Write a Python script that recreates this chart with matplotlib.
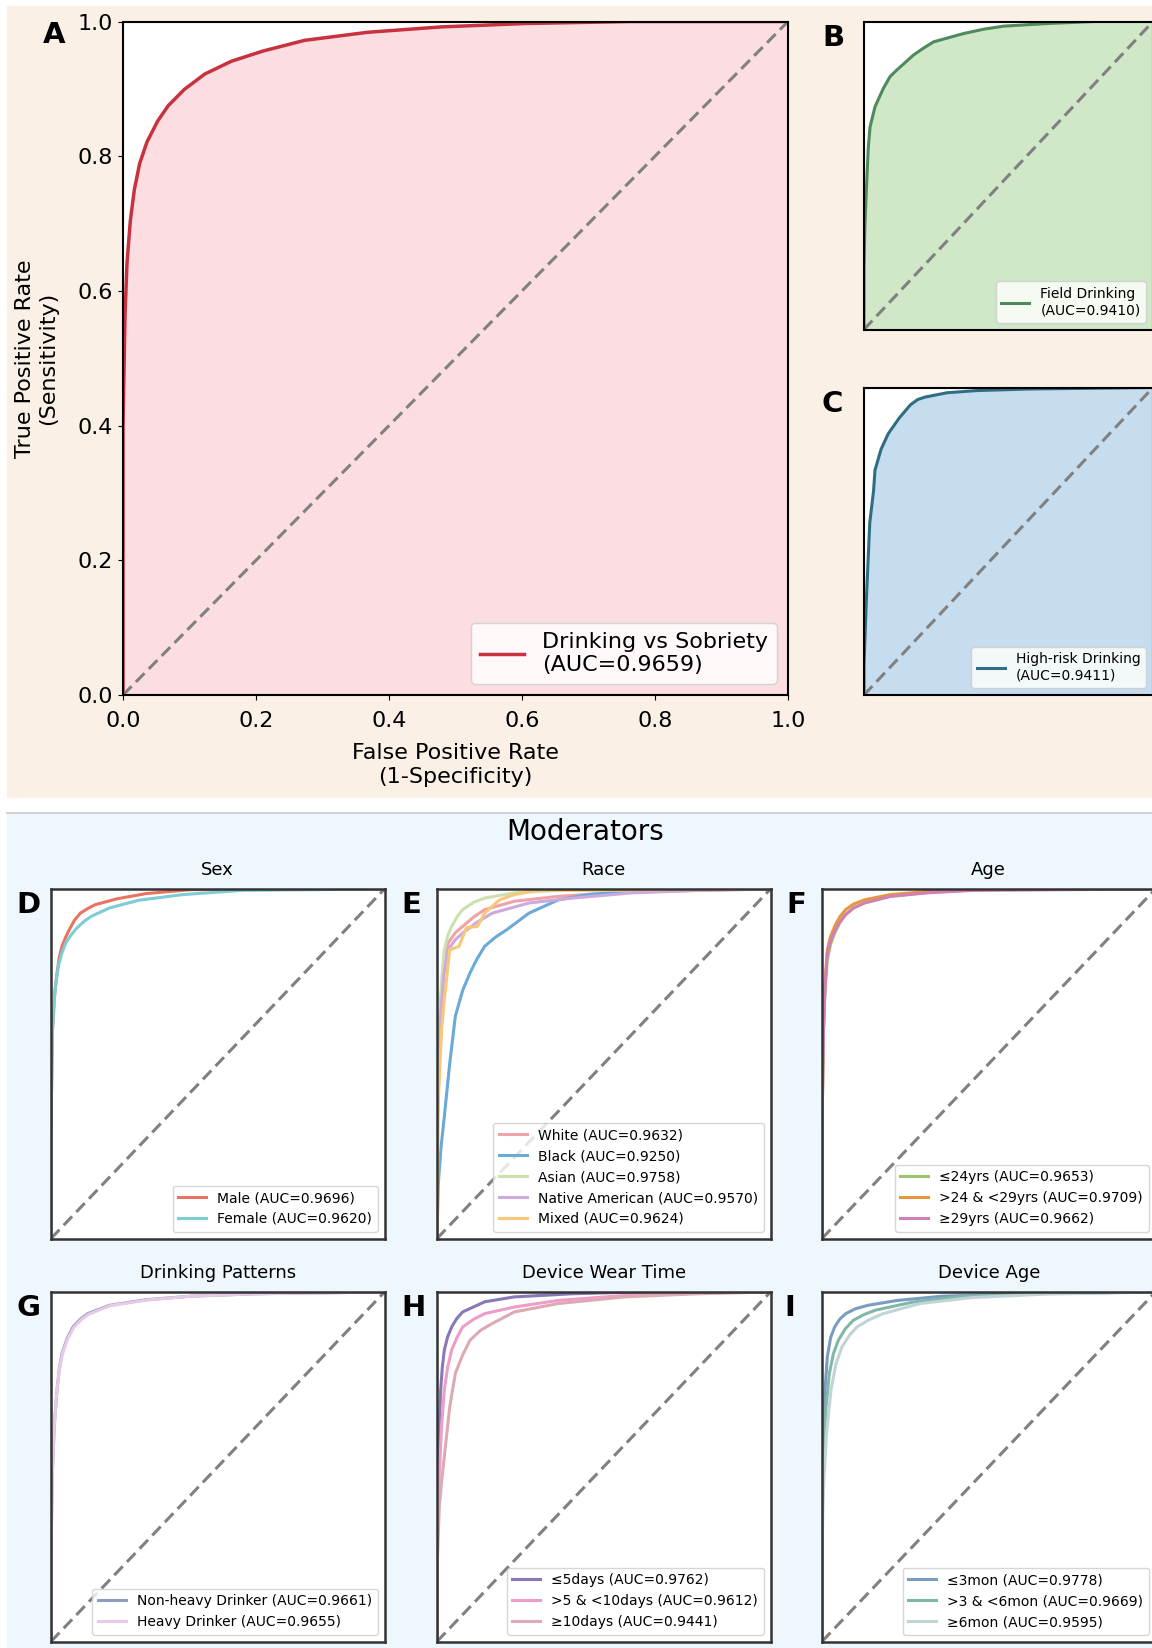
import matplotlib.pyplot as plt
from matplotlib.patches import Rectangle
from matplotlib.lines import Line2D

# ---- main ROC curves ----
fpr_all = [0, 0, 0.003, 0.006, 0.011, 0.017, 0.025, 0.036, 0.052, 0.068, 0.092, 0.123, 0.163, 0.21, 0.273, 0.368, 0.479, 0.605, 0.763, 1.0]
tpr_all = [0, 0.40, 0.563, 0.641, 0.704, 0.75, 0.789, 0.821, 0.852, 0.875, 0.899, 0.922, 0.941, 0.956, 0.972, 0.984, 0.992, 0.997, 1.0, 1.0]
auc_all = 0.9659

fpr_field = [0, 0, 0.003, 0.007, 0.015, 0.021, 0.038, 0.067, 0.09, 0.113, 0.171, 0.205, 0.241, 0.345, 0.414, 0.484, 0.646, 0.8, 1.0]
tpr_field = [0, 0.2, 0.33, 0.43, 0.593, 0.658, 0.723, 0.783, 0.821, 0.842, 0.891, 0.913, 0.934, 0.961, 0.975, 0.985, 0.994, 1.0, 1.0]
auc_field = 0.9410

fpr_risk = [0, 0, 0.008, 0.02, 0.033, 0.038, 0.059, 0.084, 0.122, 0.161, 0.186, 0.212, 0.288, 0.39, 0.569, 1.0]
tpr_risk = [0, 0.1, 0.306, 0.561, 0.663, 0.731, 0.799, 0.850, 0.901, 0.944, 0.961, 0.969, 0.983, 0.99, 0.995, 1.0]
auc_risk = 0.9411

# ---- moderators ----
sex_names = ['Male', 'Female']
sex_auc = [0.9696, 0.9620]
sex_fpr = [[0, 0, 0.004, 0.01, 0.018, 0.025, 0.033, 0.044, 0.055, 0.07, 0.088, 0.11, 0.132, 0.198, 0.286, 0.419, 1.0],
           [0, 0, 0.004, 0.012, 0.022, 0.032, 0.044, 0.06, 0.077, 0.1, 0.121, 0.176, 0.264, 0.396, 0.573, 1.0]]
sex_tpr = [[0, 0.3, 0.588, 0.69, 0.76, 0.805, 0.836, 0.862, 0.884, 0.91, 0.931, 0.944, 0.955, 0.972, 0.987, 0.998, 1.0],
           [0, 0.3, 0.588, 0.71, 0.779, 0.815, 0.845, 0.868, 0.888, 0.908, 0.922, 0.946, 0.968, 0.984, 0.996, 1.0]]

race_names = ['White', 'Black', 'Asian', 'Native American', 'Mixed']
race_auc = [0.9632, 0.9250, 0.9758, 0.9570, 0.9624]
race_fpr = [[0, 0, 0.011, 0.02, 0.033, 0.055, 0.077, 0.11, 0.143, 0.232, 0.364, 0.519, 0.784, 1.0],
            [0, 0.004, 0.012, 0.022, 0.038, 0.055, 0.077, 0.099, 0.12, 0.143, 0.175, 0.21, 0.276, 0.364, 0.453, 0.607, 1.0],
            [0, 0, 0.007, 0.014, 0.022, 0.032, 0.044, 0.06, 0.077, 0.11, 0.143, 0.232, 0.364, 1.0],
            [0, 0, 0.011, 0.02, 0.033, 0.055, 0.077, 0.12, 0.166, 0.276, 0.408, 0.585, 0.784, 1.0],
            [0, 0.004, 0.014, 0.022, 0.038, 0.066, 0.088, 0.121, 0.143, 0.165, 0.188, 0.232, 0.298, 1.0]]
race_tpr = [[0, 0.3, 0.683, 0.78, 0.845, 0.875, 0.893, 0.92, 0.941, 0.965, 0.979, 0.989, 0.996, 1.0],
            [0, 0.158, 0.26, 0.349, 0.5, 0.636, 0.71, 0.76, 0.8, 0.836, 0.862, 0.884, 0.931, 0.969, 0.984, 0.996, 1.0],
            [0, 0.3, 0.588, 0.74, 0.826, 0.865, 0.893, 0.92, 0.941, 0.962, 0.974, 0.989, 0.996, 1.0],
            [0, 0.3, 0.636, 0.75, 0.826, 0.855, 0.874, 0.905, 0.931, 0.96, 0.974, 0.989, 0.996, 1.0],
            [0, 0.397, 0.6, 0.683, 0.826, 0.836, 0.889, 0.893, 0.931, 0.95, 0.969, 0.984, 0.996, 1.0]]

age_names = ['≤24yrs', '>24 & <29yrs', '≥29yrs']
age_auc = [0.9653, 0.9709, 0.9662]
age_fpr = [[0, 0, 0.004, 0.009, 0.016, 0.026, 0.038, 0.053, 0.071, 0.095, 0.127, 0.205, 0.316, 0.472, 1.0],
           [0, 0, 0.004, 0.009, 0.016, 0.026, 0.038, 0.053, 0.071, 0.095, 0.127, 0.205, 0.316, 0.405, 1.0],
           [0, 0, 0.004, 0.009, 0.016, 0.026, 0.038, 0.053, 0.071, 0.095, 0.127, 0.205, 0.316, 0.45, 1.0]]
age_tpr = [[0, 0.3, 0.588, 0.71, 0.798, 0.843, 0.874, 0.903, 0.927, 0.946, 0.96, 0.979, 0.99, 0.998, 1.0],
           [0, 0.3, 0.588, 0.73, 0.826, 0.865, 0.893, 0.92, 0.941, 0.957, 0.969, 0.984, 0.993, 0.998, 1.0],
           [0, 0.3, 0.588, 0.72, 0.817, 0.853, 0.879, 0.905, 0.927, 0.946, 0.96, 0.979, 0.989, 0.996, 1.0]]

drink_names = ['Non-heavy Drinker', 'Heavy Drinker']
drink_auc = [0.9661, 0.9655]
drink_fpr = [[0, 0, 0.004, 0.01, 0.018, 0.025, 0.033, 0.048, 0.066, 0.088, 0.11, 0.176, 0.286, 0.419, 0.617, 1.0],
             [0, 0, 0.004, 0.01, 0.018, 0.025, 0.034, 0.049, 0.068, 0.09, 0.112, 0.178, 0.288, 0.42, 0.62, 1.0]]
drink_tpr = [[0, 0.25, 0.482, 0.62, 0.72, 0.78, 0.824, 0.866, 0.9, 0.922, 0.938, 0.962, 0.978, 0.988, 0.995, 1.0],
             [0, 0.25, 0.482, 0.62, 0.72, 0.778, 0.822, 0.864, 0.898, 0.92, 0.936, 0.961, 0.977, 0.988, 0.995, 1.0]]

wear_names = ['≤5days', '>5 & <10days', '≥10days']
wear_auc = [0.9762, 0.9612, 0.9441]
wear_fpr = [[0, 0, 0.004, 0.007, 0.011, 0.016, 0.022, 0.032, 0.044, 0.06, 0.077, 0.143, 0.232, 0.408, 0.563, 1.0],
            [0, 0, 0.007, 0.014, 0.022, 0.032, 0.044, 0.06, 0.077, 0.11, 0.143, 0.232, 0.364, 0.563, 0.784, 1.0],
            [0, 0, 0.007, 0.014, 0.022, 0.038, 0.055, 0.077, 0.099, 0.13, 0.166, 0.232, 0.364, 0.563, 0.784, 1.0]]
wear_tpr = [[0, 0.25, 0.482, 0.62, 0.72, 0.785, 0.834, 0.872, 0.9, 0.925, 0.943, 0.972, 0.986, 0.995, 0.999, 1.0],
            [0, 0.25, 0.482, 0.62, 0.72, 0.785, 0.834, 0.87, 0.9, 0.922, 0.938, 0.957, 0.976, 0.99, 0.997, 1.0],
            [0, 0.2, 0.387, 0.46, 0.53, 0.67, 0.767, 0.82, 0.862, 0.89, 0.91, 0.943, 0.967, 0.986, 0.995, 1.0]]

devage_names = ['≤3mon', '>3 & <6mon', '≥6mon']
devage_auc = [0.9778, 0.9669, 0.9595]
devage_fpr = [[0, 0, 0.004, 0.009, 0.016, 0.026, 0.038, 0.053, 0.071, 0.1, 0.138, 0.227, 0.361, 0.583, 1.0],
              [0, 0, 0.004, 0.012, 0.022, 0.034, 0.049, 0.07, 0.094, 0.125, 0.16, 0.272, 0.405, 0.628, 1.0],
              [0, 0, 0.004, 0.014, 0.027, 0.042, 0.06, 0.082, 0.105, 0.14, 0.183, 0.294, 0.45, 0.672, 1.0]]
devage_tpr = [[0, 0.3, 0.577, 0.72, 0.815, 0.87, 0.9, 0.922, 0.938, 0.952, 0.962, 0.976, 0.988, 0.995, 1.0],
              [0, 0.3, 0.53, 0.67, 0.767, 0.823, 0.862, 0.895, 0.919, 0.935, 0.948, 0.971, 0.986, 0.995, 1.0],
              [0, 0.25, 0.435, 0.6, 0.72, 0.795, 0.843, 0.876, 0.9, 0.92, 0.938, 0.967, 0.984, 0.994, 1.0]]

W, H = 1152, 1648
fig = plt.figure(figsize=(W / 100, H / 100), dpi=100)


def rect(left, top, right, bottom):
    # pixel box -> figure fraction
    return [left / W, 1 - bottom / H, (right - left) / W, (bottom - top) / H]


# section backgrounds
fig.patches.append(Rectangle((7 / W, 1 - 797 / H), 1, 791 / H, transform=fig.transFigure,
                             color='#FAF0E6', zorder=-10))
fig.patches.append(Rectangle((7 / W, 0), 1, (H - 814) / H, transform=fig.transFigure,
                             color='#EEF6FE', zorder=-10))
fig.add_artist(Line2D([7 / W, 1], [1 - 813 / H] * 2, transform=fig.transFigure, color='#c9c9c9', lw=1.2))

diag = dict(ls=(0, (4, 2)), color='gray', lw=2.2)


def big_panel(box, fpr, tpr, col, fillcol, label, fs, lw):
    ax = fig.add_axes(box)
    ax.fill_between(fpr, tpr, color=fillcol, lw=0)
    ax.plot(fpr, tpr, color=col, lw=lw, label=label)
    ax.plot([0, 1], [0, 1], **diag)
    ax.set_xlim(0, 1)
    ax.set_ylim(0, 1)
    for s in ax.spines.values():
        s.set_linewidth(1.5)
    ax.legend(loc='lower right', fontsize=fs)
    return ax


axA = big_panel(rect(123, 21.5, 788, 695), fpr_all, tpr_all, '#C8323F', '#FBDDE2',
                'Drinking vs Sobriety\n(AUC=%.4f)' % auc_all, 16, 2.5)
axA.set_xticks([0, 0.2, 0.4, 0.6, 0.8, 1.0])
axA.set_yticks([0, 0.2, 0.4, 0.6, 0.8, 1.0])
axA.tick_params(labelsize=16)
axA.tick_params(axis='x', pad=8)
axA.set_xlabel('False Positive Rate\n(1-Specificity)', fontsize=16, labelpad=9)
axA.set_ylabel('True Positive Rate\n(Sensitivity)', fontsize=16, labelpad=14)

axB = big_panel(rect(864, 21.5, 1153, 329.5), fpr_field, tpr_field, '#4E8A5C', '#D0E7C8',
                'Field Drinking\n(AUC=%.4f)' % auc_field, 10, 2.2)
axC = big_panel(rect(864, 387.5, 1153, 695), fpr_risk, tpr_risk, '#2F6E82', '#C6DDF0',
                'High-risk Drinking\n(AUC=%.4f)' % auc_risk, 10, 2.2)
for ax in [axB, axC]:
    ax.set_xticks([])
    ax.set_yticks([])

# moderator panels
groups = [
    ('Sex', sex_names, sex_auc, sex_fpr, sex_tpr, ['#E8735E', '#7FCCD4']),
    ('Race', race_names, race_auc, race_fpr, race_tpr, ['#EFA3A8', '#6AAAD8', '#CCE0B0', '#CDA9DE', '#F8C878']),
    ('Age', age_names, age_auc, age_fpr, age_tpr, ['#9CC46C', '#E8963C', '#D180B6']),
    ('Drinking Patterns', drink_names, drink_auc, drink_fpr, drink_tpr, ['#8C9CC2', '#E9C9E8']),
    ('Device Wear Time', wear_names, wear_auc, wear_fpr, wear_tpr, ['#8878B8', '#EE9CC8', '#DDAAB4']),
    ('Device Age', devage_names, devage_auc, devage_fpr, devage_tpr, ['#7A9CC0', '#80B8A8', '#C0D4D8']),
]
lefts = [51, 437, 822]
tops = [889, 1292]
for i, (title, names, aucs, fprs, tprs, cols) in enumerate(groups):
    l = lefts[i % 3]
    t = tops[i // 3]
    ax = fig.add_axes(rect(l, t, l + 333.5, t + 349.5))
    for name, a, f, tp, c in zip(names, aucs, fprs, tprs, cols):
        ax.plot(f, tp, color=c, lw=2.2, label='%s (AUC=%.4f)' % (name, a))
    ax.plot([0, 1], [0, 1], **diag)
    ax.set_xlim(0, 1)
    ax.set_ylim(0, 1)
    ax.set_xticks([])
    ax.set_yticks([])
    for s in ax.spines.values():
        s.set_linewidth(1.8)
        s.set_color('#333333')
    ax.set_title(title, fontsize=13, pad=10)
    ax.legend(loc='lower right', fontsize=10)

fig.text(585 / W, 1 - 832 / H, 'Moderators', fontsize=20, ha='center', va='center')

# panel letters
letters = [('A', 54, 35), ('B', 833, 38), ('C', 832, 404),
           ('D', 28, 905), ('E', 411, 905), ('F', 796, 905),
           ('G', 28, 1308), ('H', 413, 1308), ('I', 790, 1308)]
for s, x, y in letters:
    fig.text(x / W, 1 - y / H, s, fontsize=21, fontweight='bold', ha='center', va='center')

fig.savefig('out.png', dpi=100)
